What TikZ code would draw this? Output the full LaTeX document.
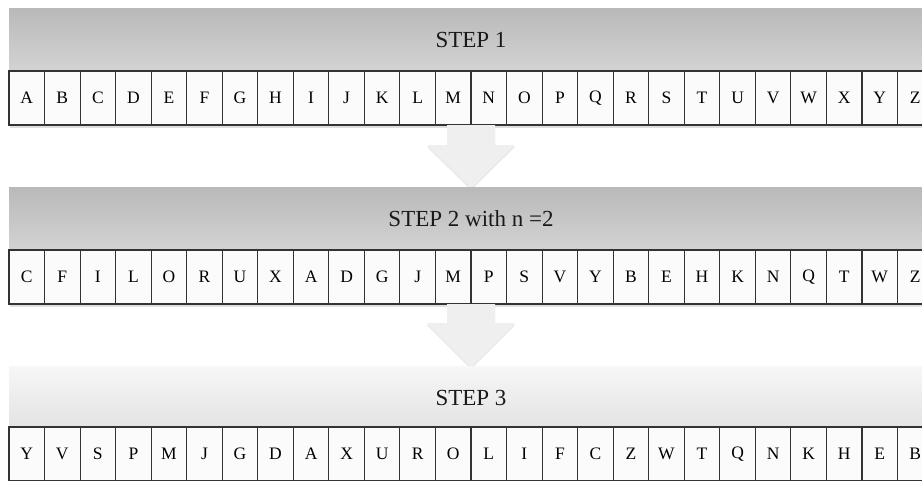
\documentclass[tikz,border=0pt]{standalone}
\usepackage{fontspec}
\setmainfont{Liberation Serif}
\usetikzlibrary{shadows}
\definecolor{bandtop}{HTML}{B9B9B9}
\definecolor{bandbot}{HTML}{D3D3D3}
\definecolor{lighttop}{HTML}{F7F7F7}
\definecolor{lightbot}{HTML}{E3E3E3}
\definecolor{cellfill}{HTML}{FBFBFB}
\definecolor{cellline}{HTML}{333333}
\definecolor{arrowfill}{HTML}{EFEFEF}
\tikzset{
  cellbox/.style={draw=cellline, fill=cellfill, line width=1.1pt, minimum width=35.54pt, minimum height=54pt, inner sep=0pt, font=\fontsize{17.5}{20}\selectfont},
  titletext/.style={inner sep=0pt, text=black!90, font=\fontsize{23}{26}\selectfont},
  blockshadow/.style={fill=white, drop shadow={opacity=0.25, shadow xshift=1pt, shadow yshift=-2.5pt}},
  blockarrow/.style={fill=arrowfill, drop shadow={opacity=0.18, shadow xshift=0pt, shadow yshift=-2pt}},
}
\begin{document}
\begin{tikzpicture}[x=1pt,y=-1pt]
\clip (0,0) rectangle (922,480);
% ---- block 1
\path[blockshadow] (9,8) rectangle (933,125);
\shade[top color=bandtop, bottom color=bandbot] (9,8) rectangle (933,71);
\node[titletext] (t1) at (471,40) {STEP 1};
\foreach \l [count=\i from 0] in {A,B,C,D,E,F,G,H,I,J,K,L,M,N,O,P,Q,R,S,T,U,V,W,X,Y,Z}
  \node[cellbox] (a\i) at ({9+35.54*\i+17.77},98) {\l};
% ---- arrow 1
\path[blockarrow] (447,125) -- (495,125) -- (495,145) -- (515,145) -- (471,188) -- (427,145) -- (447,145) -- cycle;
% ---- block 2
\path[blockshadow] (9,187) rectangle (933,304);
\shade[top color=bandtop, bottom color=bandbot] (9,187) rectangle (933,250);
\node[titletext] (t2) at (471,219) {STEP 2 with n =2};
\foreach \l [count=\i from 0] in {C,F,I,L,O,R,U,X,A,D,G,J,M,P,S,V,Y,B,E,H,K,N,Q,T,W,Z}
  \node[cellbox] (b\i) at ({9+35.54*\i+17.77},277) {\l};
% ---- arrow 2
\path[blockarrow] (447,304) -- (495,304) -- (495,323) -- (515,323) -- (471,367) -- (427,323) -- (447,323) -- cycle;
% ---- block 3
\path[blockshadow] (9,366) rectangle (933,481);
\shade[top color=lighttop, bottom color=lightbot] (9,366) rectangle (933,427);
\node[titletext] (t3) at (471,398) {STEP 3};
\foreach \l [count=\i from 0] in {Y,V,S,P,M,J,G,D,A,X,U,R,O,L,I,F,C,Z,W,T,Q,N,K,H,E,B}
  \node[cellbox] (c\i) at ({9+35.54*\i+17.77},454) {\l};
\end{tikzpicture}
\end{document}
